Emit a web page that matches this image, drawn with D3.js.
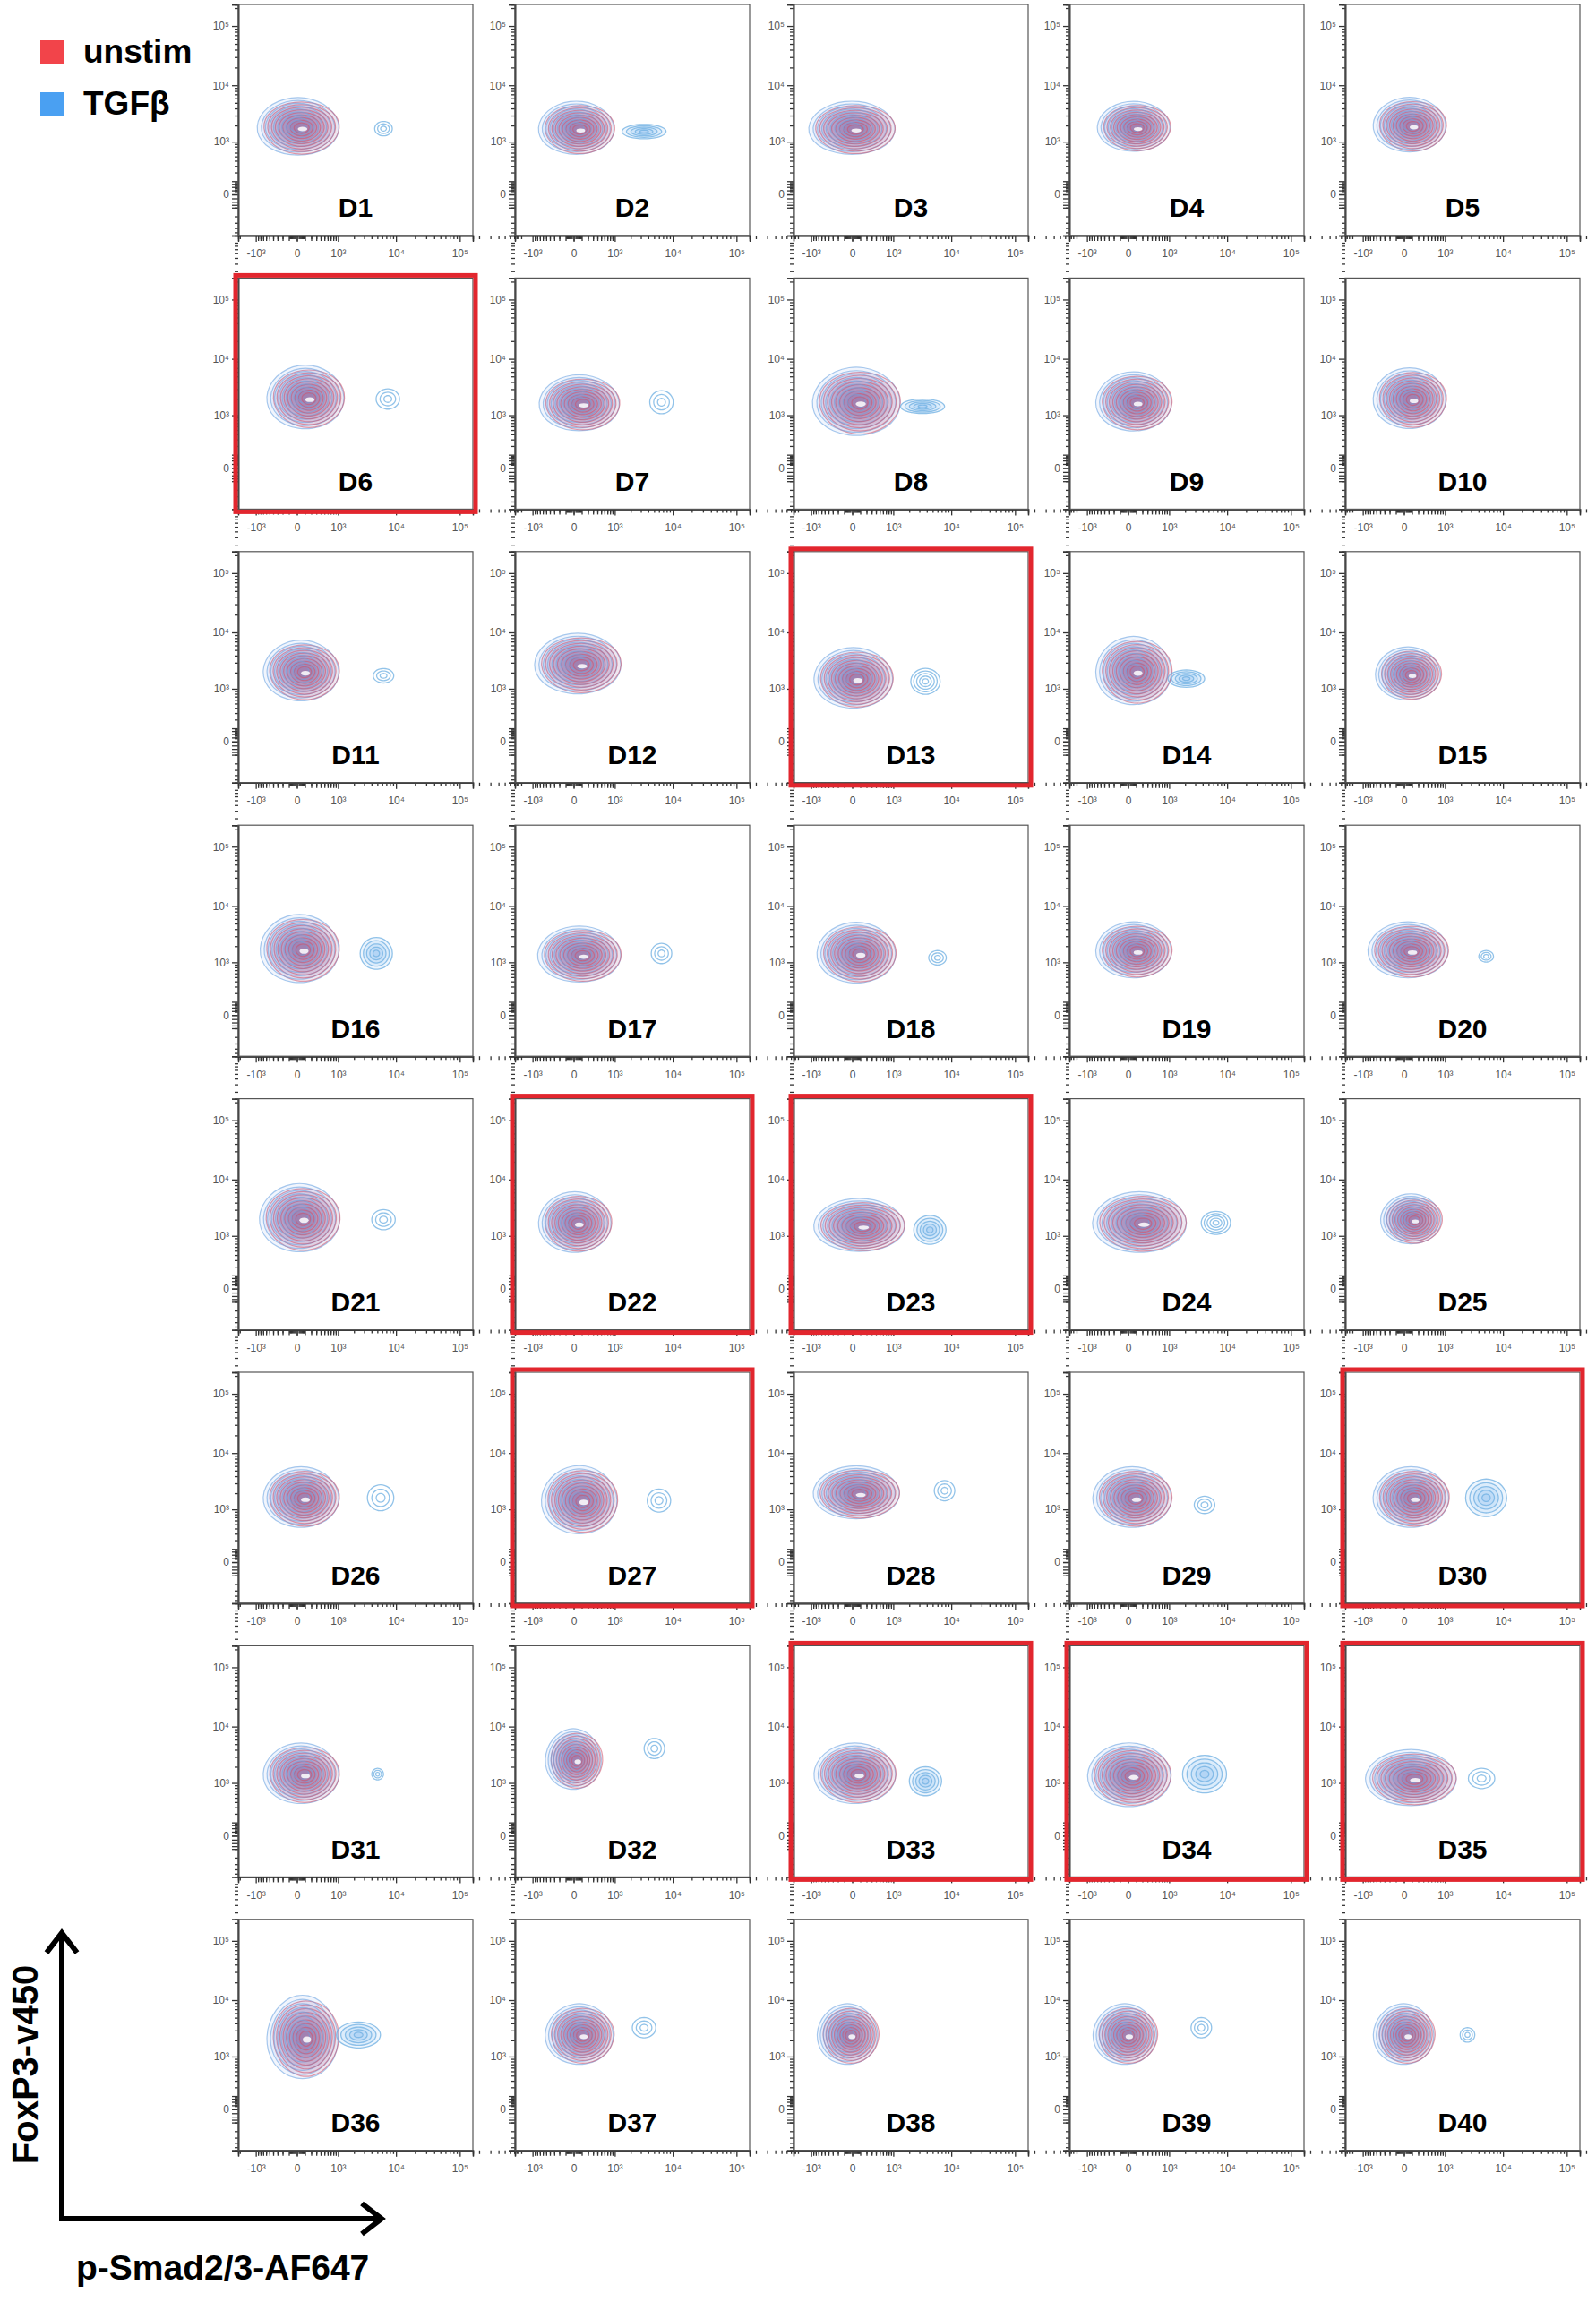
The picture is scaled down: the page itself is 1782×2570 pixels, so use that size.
<!DOCTYPE html>
<html><head><meta charset="utf-8">
<script src="https://cdn.jsdelivr.net/npm/d3@7"></script>
<style>body{margin:0;background:#fff}svg{display:block}</style>
</head><body>
<script>
// ---- data ----
const donors = d3.range(1,41).map(i=>"D"+i);
const highlighted = ["D6","D13","D22","D23","D27","D30","D33","D34","D35"];
// unstim/main population: centre (p-Smad2/3, FoxP3) and extent (fraction of plot)
const mainX = [33,51,16,90,90,133,90,70,90,90, 70,70,33,90,70,51,90,70,90,70, 51,33,110,180,110,70,90,70,70,110, 70,16,51,33,110,90,90,-33,-16,16];
const mainY = [1860,1750,1750,1860,2000,2100,1650,1750,1750,2000, 2100,2800,1550,2100,1860,1750,1380,1470,1650,1650, 2100,1750,1550,1750,2000,1650,1470,2000,1650,1650, 1470,2650,1470,1380,1220,2220,2500,2500,2500,2500];
const mainW = [54,50,57,48,48,51,53,58,50,48, 50,57,52,50,43,52,55,52,50,53, 53,48,60,62,40,50,50,57,52,50, 50,37,54,55,60,47,45,40,42,40];
const mainH = [38,35,35,33,36,42,37,45,39,40, 40,40,40,45,35,45,37,40,37,37, 45,40,35,40,33,40,45,35,40,40, 40,40,40,42,37,55,40,40,40,40];
// TGFβ-responding (p-Smad2/3 high) population; null = none
const tgfX = [6300,3400,null,null,null,7400,6600,3400,null,null, 6300,null,3800,2100,null,4800,6600,6000,null,5350, 6300,null,4500,6600,null,5650,6000,7800,4300,5350, 5050,5050,3800,4300,4500,2400,3400,null,3800,2600];
const tgfY = [1750,1550,null,null,null,2000,1750,1470,null,null, 1750,null,1380,1550,null,1470,1470,1220,null,1300, 2000,null,1300,1750,null,1650,1470,2220,1220,1650, 1470,4200,1080,1470,1220,2500,3350,null,3350,2500];
const tgfW = [12,30,0,0,0,16,16,30,0,0, 14,0,20,25,0,22,14,12,0,10, 16,0,22,20,0,18,16,14,14,28, 8,14,22,30,18,30,16,0,14,10];
const tgfH = [10,10,0,0,0,14,16,10,0,0, 10,0,18,12,0,22,14,10,0,8, 14,0,20,16,0,18,16,14,12,26, 8,14,20,26,14,18,14,0,14,10];
const xTicks = [-1000,0,1000,10000,100000];
const xTickLabels = ["-10³","0","10³","10⁴","10⁵"];
const yTicks = [0,1000,10000,100000];
const yTickLabels = ["0","10³","10⁴","10⁵"];
const legendLabels = ["unstim","TGFβ"];
const legendColors = ["#f2444a","#4aa0f2"];

// ---- layout ----
const W=1782,H=2570;
const svg=d3.select("body").append("svg").attr("width",W).attr("height",H);
const PW=262, PH=258, x0s=[266,575,886,1194,1502], y0=5, rowPitch=305.4;
const x=d3.scaleSymlog().constant(300).domain([-2136,160000]).range([0,PW]);
const y=d3.scaleSymlog().constant(150).domain([-586,230000]).range([PH,0]);
const minor=[];
[1,10,100,1000,10000].forEach(d=>{for(let k=2;k<10;k++){minor.push(d*k*10);} });
const nearZero=d3.range(-900,901,100);
const lineGen=d3.line().curve(d3.curveCardinalClosed);

function blobPath(cx,cy,rx,ry,s,skew){
  const pts=[];
  for(let a=0;a<360;a+=20){
    const t=a*Math.PI/180;
    const sk=1+skew*Math.sin(t);
    pts.push([cx+rx*s*Math.cos(t)*sk, cy+ry*s*Math.sin(t)]);
  }
  return lineGen(pts);
}

donors.forEach((name,i)=>{
  const r=Math.floor(i/5), c=i%5;
  const g=svg.append("g").attr("transform",`translate(${x0s[c]},${y0+r*rowPitch})`);
  const xa=g.append("g").attr("transform",`translate(0,${PH})`);
  xa.call(d3.axisBottom(x).tickValues(xTicks).tickSize(7).tickFormat((d,j)=>xTickLabels[j]));
  xa.append("g").call(d3.axisBottom(x).tickValues(minor.concat(minor.map(v=>-v).filter(v=>v>-2136))).tickSize(4).tickFormat(""));
  xa.append("g").call(d3.axisBottom(x).tickValues(nearZero).tickSize(6).tickFormat(""));
  xa.selectAll("path.domain").attr("stroke","#333").attr("stroke-width",1.4);
  xa.selectAll("text").attr("font-size",12).attr("fill","#555").attr("font-family","Liberation Sans, Arial").attr("dy","1.2em");
  xa.selectAll("line").attr("stroke","#333").attr("stroke-width",1.3);
  const ya=g.append("g");
  ya.call(d3.axisLeft(y).tickValues(yTicks).tickSize(7).tickFormat((d,j)=>yTickLabels[j]));
  ya.append("g").call(d3.axisLeft(y).tickValues(minor.concat([-100,-200,-300,-400,-500])).tickSize(4).tickFormat(""));
  ya.append("g").call(d3.axisLeft(y).tickValues(d3.range(-100,101,25)).tickSize(7).tickFormat(""));
  ya.selectAll("path.domain").attr("stroke","#333").attr("stroke-width",1.4);
  ya.selectAll("text").attr("font-size",12).attr("fill","#555").attr("font-family","Liberation Sans, Arial");
  ya.selectAll("line").attr("stroke","#333").attr("stroke-width",1.3);
  const hl=highlighted.includes(name);
  g.append("rect").attr("x",0).attr("y",0).attr("width",PW).attr("height",PH)
    .attr("fill","none").attr("stroke","#555").attr("stroke-width",1.2);
  const cx=x(mainX[i]), cy=y(mainY[i]), rx=mainW[i]*PW/160/2, ry=mainH[i]*PH/160/2;
  const levels=[1,0.9,0.8,0.7,0.6,0.5,0.4,0.3,0.2];
  levels.forEach((s,k)=>{
    g.append("path").attr("d",blobPath(cx-2,cy-1,rx*1.03,ry*1.05,s,0.05))
      .attr("fill","rgba(80,130,225,0.08)").attr("stroke","rgba(110,165,225,0.6)").attr("stroke-width",1.2);
    g.append("path").attr("d",blobPath(cx+2,cy+1,rx*0.95,ry*0.95,s,-0.06))
      .attr("fill","rgba(205,60,90,0.07)").attr("stroke","rgba(205,80,105,0.55)").attr("stroke-width",1.2);
  });
  g.append("ellipse").attr("cx",cx+3).attr("cy",cy+2).attr("rx",rx*0.12).attr("ry",ry*0.08).attr("fill","rgba(255,255,255,0.85)");
  if(tgfX[i]!==null){
    const tx=x(tgfX[i]), ty=y(tgfY[i]), trx=tgfW[i]*PW/160/2, try_=tgfH[i]*PH/160/2;
    const n = tgfW[i]>=20?5:3;
    d3.range(n).forEach(k=>{
      const s=1-k/n;
      g.append("path").attr("d",blobPath(tx,ty,trx,try_,s,0))
        .attr("fill",tgfW[i]>=22?"rgba(80,160,235,0.1)":"none")
        .attr("stroke","rgba(110,175,225,0.75)").attr("stroke-width",1.3);
    });
  }
  g.append("text").attr("x",PW*0.5).attr("y",PH*0.92).attr("text-anchor","middle")
    .attr("font-family","Liberation Sans, Arial").attr("font-weight","bold").attr("font-size",30).text(name);
  if(hl) g.append("rect").attr("x",-3).attr("y",-3).attr("width",PW+6).attr("height",PH+6)
    .attr("fill","none").attr("stroke","#e2262e").attr("stroke-width",5);
});

// legend
legendLabels.forEach((t,j)=>{
  svg.append("rect").attr("x",45).attr("y",45+j*58).attr("width",27).attr("height",27).attr("fill",legendColors[j]);
  svg.append("text").attr("x",93).attr("y",70+j*58).attr("font-family","Liberation Sans, Arial")
    .attr("font-weight","bold").attr("font-size",37).text(t);
});

// axis arrows
svg.append("path").attr("d","M69,2480 L69,2158 M52,2180 L69,2158 L86,2180")
  .attr("fill","none").attr("stroke","#000").attr("stroke-width",6).attr("stroke-linejoin","miter");
svg.append("path").attr("d","M66,2477 L426,2477 M404,2460 L426,2477 L404,2494")
  .attr("fill","none").attr("stroke","#000").attr("stroke-width",6);
svg.append("text").attr("transform","translate(42,2305) rotate(-90)").attr("text-anchor","middle")
  .attr("font-family","Liberation Sans, Arial").attr("font-weight","bold").attr("font-size",40).text("FoxP3-v450");
svg.append("text").attr("x",85).attr("y",2545)
  .attr("font-family","Liberation Sans, Arial").attr("font-weight","bold").attr("font-size",39).text("p-Smad2/3-AF647");
</script>
</body></html>
